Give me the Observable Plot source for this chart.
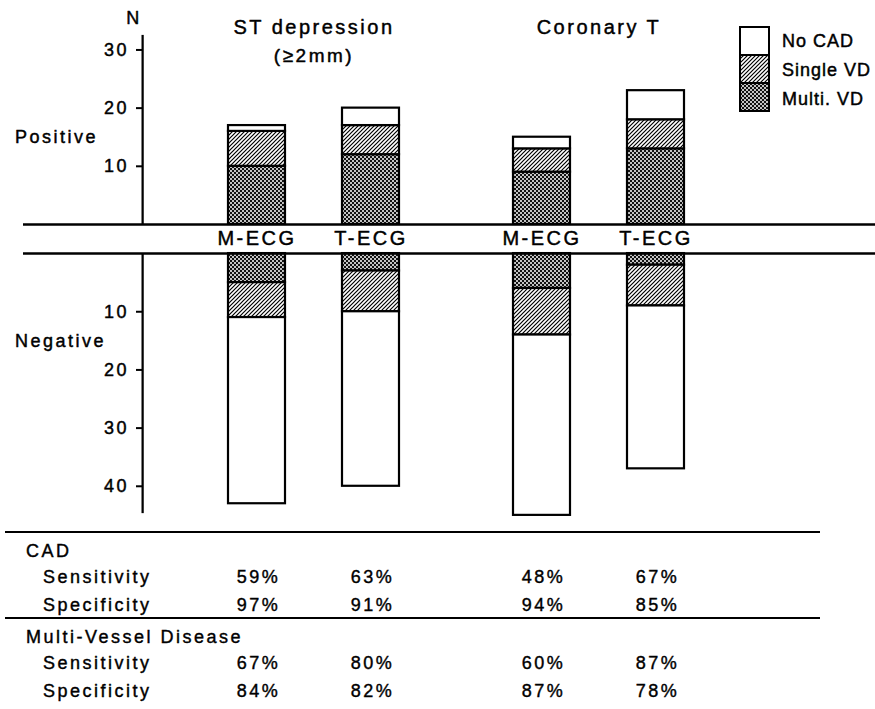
<!DOCTYPE html>
<html>
<head>
<meta charset="utf-8">
<script src="https://cdn.jsdelivr.net/npm/d3@7"></script>
<script src="https://cdn.jsdelivr.net/npm/@observablehq/plot@0.6"></script>
<style>
  body { margin: 0; background: #fff; }
  #wrap { position: relative; width: 875px; height: 709px; background: #fff;
          font-family: "Liberation Sans", Arial, Helvetica, sans-serif; color: #000; }
  #legend { position: absolute; left: 738px; top: 25px; }
  #table { position: absolute; left: 0; top: 530px; width: 875px; height: 179px; }
  .tline { position: absolute; left: 5px; width: 815px; height: 0; border-top: 2.5px solid #000; }
  .tcell { position: absolute; height: 22px; line-height: 22px; font-size: 18px; letter-spacing: 2.5px;
           white-space: nowrap; -webkit-text-stroke: 0.4px #000; }
  .pct { transform: translateX(-50%); }
</style>
</head>
<body>
<svg width="0" height="0" style="position:absolute;left:0;top:0">
  <defs>
    <pattern id="hatch" patternUnits="userSpaceOnUse" width="4" height="4">
      <rect width="4" height="4" fill="white"/>
      <path d="M-1,1 l2,-2 M0,4 l4,-4 M3,5 l2,-2" stroke="black" stroke-width="1.2"/>
    </pattern>
    <pattern id="dots" patternUnits="userSpaceOnUse" width="4" height="4">
      <rect width="4" height="4" fill="#111"/>
      <circle cx="1" cy="1" r="1" fill="white"/>
      <circle cx="3" cy="3" r="1" fill="white"/>
    </pattern>
  </defs>
</svg>
<div id="wrap">
  <div id="legend"></div>
  <div id="table"></div>
</div>
<script>
// ---------------- data ----------------
const tests = ["ST depression", "Coronary T"];
const testNotes = ["(≥2mm)", ""];
const methods = ["M-ECG", "T-ECG"];
const groups = ["No CAD", "Single VD", "Multi. VD"];          // legend order (top to bottom)
// counts per bar, order: ST M-ECG, ST T-ECG, CT M-ECG, CT T-ECG
const posMulti  = [10, 12, 9, 13];
const posSingle = [6, 5, 4, 5];
const posNoCAD  = [1, 3, 2, 5];
const negMulti  = [5, 3, 6, 2];
const negSingle = [6, 7, 8, 7];
const negNoCAD  = [32, 30, 31, 28];
const posTicks = [10, 20, 30];
const negTicks = [10, 20, 30, 40];
const sideLabels = ["Positive", "Negative"];
const axisLabel = "N";
const cadSensitivity = [59, 63, 48, 67];
const cadSpecificity = [97, 91, 94, 85];
const mvdSensitivity = [67, 80, 60, 87];
const mvdSpecificity = [84, 82, 87, 78];
const tableSections = ["CAD", "Multi-Vessel Disease"];
const tableMeasures = ["Sensitivity", "Specificity"];

// ---------------- build ----------------
const GAP = 5; // band between positive and negative halves (in N units)
const keys = [];
tests.forEach(t => methods.forEach(m => keys.push(t + "|" + m)));

const segs = [];
keys.forEach((k, i) => {
  let c = 0;
  [["Multi. VD", posMulti[i]], ["Single VD", posSingle[i]], ["No CAD", posNoCAD[i]]].forEach(([g, v]) => {
    segs.push({key: k, group: g, y1: c, y2: c + v}); c += v;
  });
  c = 0;
  [["Multi. VD", negMulti[i]], ["Single VD", negSingle[i]], ["No CAD", negNoCAD[i]]].forEach(([g, v]) => {
    segs.push({key: k, group: g, y1: -(GAP + c), y2: -(GAP + c + v)}); c += v;
  });
});

const xDomain = ["axis", "·1", keys[0], tests[0], keys[1], "·2", "·3", keys[2], tests[1], keys[3]];
const axisTop = 32.5, axisBottom = 44.7;
const axisSegs = [[0, axisTop], [-GAP, -(GAP + axisBottom)]];

const fills = {"No CAD": "white", "Single VD": "url(#hatch)", "Multi. VD": "url(#dots)"};
const thick = {fill: "black", stroke: "black", strokeWidth: 0.45};

const chart = Plot.plot({
  width: 875, height: 530,
  marginLeft: 111, marginRight: 189, marginTop: 0, marginBottom: 0,
  x: {type: "band", domain: xDomain, range: [111, 686], padding: 0, axis: null},
  y: {domain: [-52.6, 38.5], range: [530, 0], axis: null},
  color: {type: "ordinal", domain: groups, range: groups.map(g => fills[g])},
  style: {fontFamily: '"Liberation Sans", Arial, Helvetica, sans-serif', fontSize: "18px",
          letterSpacing: "2.5px", background: "white", overflow: "visible"},
  marks: [
    Plot.barY(segs, {x: "key", y1: "y1", y2: "y2", fill: "group", stroke: "black", strokeWidth: 2.2}),
    Plot.ruleY([0, -GAP], {stroke: "black", strokeWidth: 2.5, insetLeft: -88, insetRight: -189}),
    Plot.barY(axisSegs, {x: () => "axis", y1: d => d[0], y2: d => d[1], fill: "black",
                         insetLeft: 27.5, insetRight: 27.25}),
    Plot.tickY(posTicks, {x: () => "axis", y: d => d, insetLeft: 22, insetRight: 28.5, strokeWidth: 2}),
    Plot.tickY(negTicks, {x: () => "axis", y: d => -(d + GAP), insetLeft: 22, insetRight: 28.5, strokeWidth: 2}),
    Plot.text(posTicks, {x: () => "axis", y: d => d, text: d => String(d), textAnchor: "end", dx: -14, fontSize: 18, ...thick}),
    Plot.text(negTicks, {x: () => "axis", y: d => -(d + GAP), text: d => String(d), textAnchor: "end", dx: -14, fontSize: 18, ...thick}),
    Plot.text([axisLabel], {x: () => "axis", y: 35.4, text: d => d, dx: -9, fontSize: 18, ...thick}),
    Plot.text(sideLabels, {x: () => "axis", y: (d, i) => i === 0 ? 15 : -(15 + GAP), text: d => d,
                           textAnchor: "start", dx: -128, fontSize: 18, ...thick}),
    Plot.text(keys, {x: d => d, y: -GAP / 2, text: d => d.split("|")[1], fontSize: 20, ...thick}),
    Plot.text(tests, {x: d => d, y: 33.9, text: d => d, fontSize: 20, ...thick}),
    Plot.text(tests.filter((t, i) => testNotes[i]), {x: d => d, y: 29.0,
              text: d => testNotes[tests.indexOf(d)], fontSize: 19, ...thick})
  ]
});
document.getElementById("wrap").insertBefore(chart, document.getElementById("legend"));

// ---------------- legend ----------------
const lg = d3.select("#legend").append("svg").attr("width", 137).attr("height", 92)
  .style("font-family", '"Liberation Sans", Arial, sans-serif');
groups.forEach((g, i) => {
  lg.append("rect").attr("x", 2).attr("y", 2 + i * 28).attr("width", 29).attr("height", 28)
    .attr("fill", fills[g]).attr("stroke", "black").attr("stroke-width", 2);
  lg.append("text").attr("x", 44).attr("y", 16 + i * 29).attr("dy", "0.35em")
    .attr("font-size", 18).attr("letter-spacing", "1px").attr("fill", "black")
    .attr("stroke", "black").attr("stroke-width", 0.45).attr("paint-order", "stroke")
    .text(g);
});

// ---------------- table ----------------
const xs = chart.scale("x");
const bw = xs.bandwidth || 0;
const centers = keys.map(k => xs.apply(k) + bw / 2);
const tbl = d3.select("#table");
const sectionData = [[cadSensitivity, cadSpecificity], [mvdSensitivity, mvdSpecificity]];
const sectionTop = [0, 86];
tableSections.forEach((s, si) => {
  const top = sectionTop[si];
  tbl.append("div").attr("class", "tline").style("top", (top + 1) + "px");
  tbl.append("div").attr("class", "tcell").style("left", "26px").style("top", (top + 21 - 11) + "px").text(s);
  tableMeasures.forEach((m, mi) => {
    const cy = top + 47 + mi * 27.5 - 11;
    tbl.append("div").attr("class", "tcell").style("left", "43px").style("top", cy + "px").text(m);
    sectionData[si][mi].forEach((v, j) => {
      tbl.append("div").attr("class", "tcell pct").style("left", (centers[j] + 2) + "px")
        .style("top", cy + "px").text(v + "%");
    });
  });
});
</script>
</body>
</html>
